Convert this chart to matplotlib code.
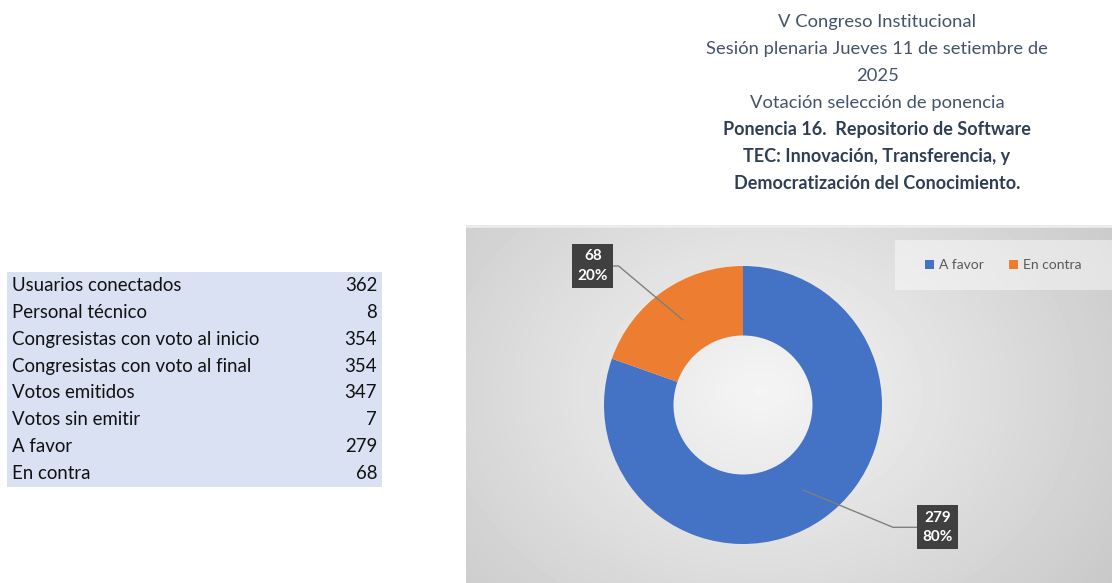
import numpy as np
import matplotlib.pyplot as plt
from matplotlib.patches import Rectangle, Patch

# Data
categories = ['A favor', 'En contra']
votes = [279, 68]
percents = ['80%', '20%']
colors = ['#4472C4', '#ED7D31']

table_labels = ['Usuarios conectados', 'Personal técnico', 'Congresistas con voto al inicio',
                'Congresistas con voto al final', 'Votos emitidos', 'Votos sin emitir',
                'A favor', 'En contra']
table_values = [362, 8, 354, 354, 347, 7, 279, 68]

title_lines = ['V Congreso Institucional', 'Sesión plenaria Jueves 11 de setiembre de', '2025',
               'Votación selección de ponencia']
title_bold = ['Ponencia 16.  Repositorio de Software', 'TEC: Innovación, Transferencia, y',
              'Democratización del Conocimiento.']

plt.rcParams['font.family'] = ['Lato', 'DejaVu Sans']

W, H = 1112, 583
fig = plt.figure(figsize=(W / 100, H / 100), dpi=100)


def px_axes(x0, y0, x1, y1):
    # pixel box (top-left origin) -> figure axes
    return fig.add_axes([x0 / W, 1 - y1 / H, (x1 - x0) / W, (y1 - y0) / H])


# Title
for i, line in enumerate(title_lines + title_bold):
    bold = i >= len(title_lines)
    fig.text(877 / W, 1 - (22 + 27 * i) / H, line, ha='center', va='center',
             fontsize=13 if bold else 13.2, color='#2F3E55' if bold else '#44546A',
             fontweight='bold' if bold else 'normal')

# Table on the left
tax = px_axes(7, 272, 382, 487)
tax.set_xlim(0, 1)
tax.set_ylim(len(table_labels), 0)
tax.axis('off')
tax.add_patch(Rectangle((0, 0), 1, len(table_labels), facecolor='#D9E1F2', edgecolor='none'))
for i, (lab, val) in enumerate(zip(table_labels, table_values)):
    tax.text(0.013, i + 0.5, lab, ha='left', va='center', fontsize=13.4, color='#111111')
    tax.text(0.987, i + 0.5, str(val), ha='right', va='center', fontsize=13.4, color='#111111')

# Chart panel with radial gradient
bax = px_axes(466, 225, 1112, 583)
yy, xx = np.mgrid[225:583, 466:1112]
d = np.hypot((xx - 760) / 420.0, (yy - 390) / 330.0)
shade = np.clip(0.96 - 0.17 * d, 0.78, 0.96)
bax.imshow(shade, cmap='gray', vmin=0, vmax=1, aspect='auto', interpolation='bilinear')
bax.axhline(0, color='#ececec', lw=2)
bax.axis('off')

# Donut
cx, cy, r = 743, 405, 139
ax = px_axes(cx - r, cy - r, cx + r, cy + r)
wedges, _ = ax.pie(votes, colors=colors, startangle=90, counterclock=False, radius=1,
                   wedgeprops=dict(width=0.5, edgecolor='none'))
ax.set_xlim(-1, 1)
ax.set_ylim(-1, 1)
ax.set_aspect('equal')

label_pos = [(1.40, -0.88), (-1.08, 1.0)]
line_angles = [-22.5, -40]
for w, v, p, pos, ang in zip(wedges, votes, percents, label_pos, line_angles):
    mid = np.deg2rad((w.theta1 + w.theta2) / 2)
    pt = (0.75 * np.cos(mid), 0.75 * np.sin(mid))
    ax.annotate(f'{v}\n{p}', xy=pt, xytext=pos, ha='center', va='center',
                fontsize=11, fontweight='bold', color='white', linespacing=1.5,
                bbox=dict(boxstyle='square,pad=0.35', facecolor='#404040', edgecolor='none'),
                arrowprops=dict(arrowstyle='-', color='#7f7f7f', lw=1,
                                connectionstyle=f'angle,angleA=0,angleB={ang}',
                                shrinkA=0, shrinkB=0),
                annotation_clip=False)

# Legend
lax = px_axes(895, 240, 1112, 290)
lax.axis('off')
lax.add_patch(Rectangle((0, 0), 1, 1, transform=lax.transAxes, facecolor='white',
                        alpha=0.45, edgecolor='none'))
handles = [Patch(facecolor=c, edgecolor='none') for c in colors]
lax.legend(handles, categories, loc='center', ncol=2, frameon=False, fontsize=10,
           handlelength=0.6, handleheight=0.6, handletextpad=0.4, columnspacing=1.8,
           labelcolor='#595959')

fig.savefig('out.png', dpi=100)
